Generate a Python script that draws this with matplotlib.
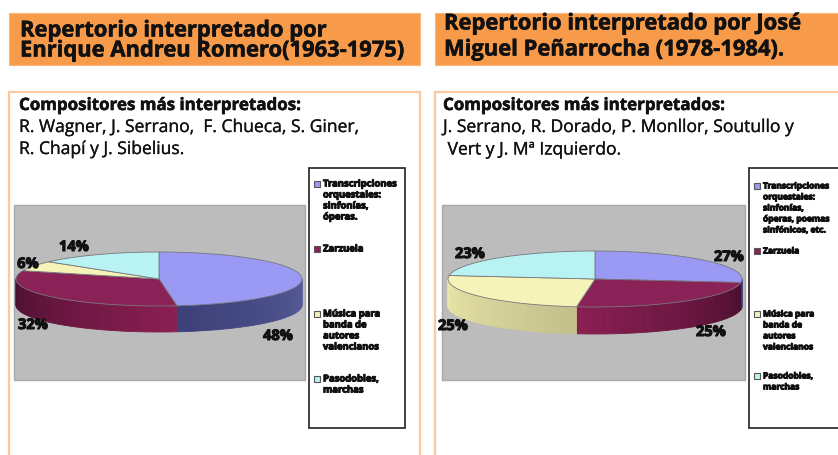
import numpy as np
import matplotlib
matplotlib.use('Agg')
import matplotlib.pyplot as plt
from matplotlib.patches import Rectangle
import matplotlib.patheffects as pe

# Datos de los dos graficos
valores_andreu = [48, 32, 6, 14]
valores_penarrocha = [27, 25, 25, 23]
etiquetas_andreu = ['48%', '32%', '6%', '14%']
etiquetas_penarrocha = ['27%', '25%', '25%', '23%']

titulo_andreu = ['Repertorio interpretado por', 'Enrique Andreu Romero(1963-1975)']
titulo_penarrocha = ['Repertorio interpretado por José', 'Miguel Peñarrocha (1978-1984).']
compositores_andreu = ['R. Wagner, J. Serrano,  F. Chueca, S. Giner,', 'R. Chapí y J. Sibelius.']
compositores_penarrocha = ['J. Serrano, R. Dorado, P. Monllor, Soutullo y', ' Vert y J. Mª Izquierdo.']

leyenda_andreu = ['Transcripciones\norquestales:\nsinfonías,\nóperas.', 'Zarzuela',
                  'Música para\nbanda de\nautores\nvalencianos', 'Pasodobles,\nmarchas']
leyenda_penarrocha = ['Transcripciones\norquestales:\nsinfonías,\nóperas, poemas\nsinfónicos, etc.', 'Zarzuela',
                      'Música para\nbanda de\nautores\nvalencianos', 'Pasodobles,\nmarchas']

colores = ['#9a9af5', '#8a2258', '#f6f3b8', '#b8f2f2']
colores_lado = ['#565b98', '#8a1f52', '#ece8aa', '#8fc8c8']
colores_lado_osc = ['#3c4078', '#4a0e2e', '#c4c08c', '#70a0a0']

NARANJA = '#f79a4a'
BORDE = '#fbc8a0'
GRIS = '#bcbcbc'
FUENTE = 'Open Sans'

fig = plt.figure(figsize=(8.38, 4.55), dpi=100)
ax = fig.add_axes([0, 0, 1, 1])
ax.set_xlim(0, 838)
ax.set_ylim(455, 0)
ax.axis('off')


def texto(x, y, s, size, peso='bold', grosor=0.0, **kw):
    t = ax.text(x, y, s, fontsize=size, fontweight=peso, family=FUENTE, color='#111111',
                va='center', ha=kw.pop('ha', 'left'), **kw)
    if grosor:
        t.set_path_effects([pe.withStroke(linewidth=grosor, foreground='#111111')])
    return t


def tarta(valores, etiquetas, cx, cy, rx, ry, prof, pos_etiquetas, lado_oscuro):
    total = sum(valores)
    fin = np.cumsum(valores) / total * 2 * np.pi
    ini = np.r_[0, fin[:-1]]
    # lado del cilindro, solo la mitad delantera
    for i in range(len(valores)):
        a0, a1 = max(ini[i], np.pi / 2), min(fin[i], 3 * np.pi / 2)
        if a1 <= a0:
            continue
        ts = np.linspace(a0, a1, 40)
        c0 = np.array(matplotlib.colors.to_rgb(colores_lado[i]))
        c1 = np.array(matplotlib.colors.to_rgb(colores_lado_osc[i]))
        for j in range(len(ts) - 1):
            xs = cx + rx * np.sin(ts[j:j + 2])
            ys = cy - ry * np.cos(ts[j:j + 2])
            # el tono se oscurece hacia el lado indicado
            f = j / 38 if lado_oscuro[i] else 1 - j / 38
            ax.fill([xs[0], xs[1], xs[1], xs[0]], [ys[0], ys[1], ys[1] + prof, ys[0] + prof],
                    color=c0 + (c1 - c0) * f, lw=0.6, zorder=3)
    # tapa superior
    for i in range(len(valores)):
        ts = np.linspace(ini[i], fin[i], 80)
        xs = np.r_[cx, cx + rx * np.sin(ts)]
        ys = np.r_[cy, cy - ry * np.cos(ts)]
        ax.fill(xs, ys, facecolor=colores[i], edgecolor='#77777f', lw=0.6, zorder=4)
    for (x, y), e in zip(pos_etiquetas, etiquetas):
        texto(x, y, e, 10.5, grosor=0.8, ha='center', zorder=6)


def leyenda(x0, y0, x1, y1, textos, ys, size):
    ax.add_patch(Rectangle((x0, y0), x1 - x0, y1 - y0, fc='white', ec='#333333', lw=1.3, zorder=2))
    for i, (s, y) in enumerate(zip(textos, ys)):
        ax.add_patch(Rectangle((x0 + 5, y - 3), 6, 6, fc=colores[i], ec='#555555', lw=0.8, zorder=3))
        for k, linea in enumerate(s.split('\n')):
            texto(x0 + 14, y + k * 11, linea, size, grosor=0.7, zorder=3)


def panel(x0, x1, xg0, xg1, titulo, ty, comp, cx):
    ax.add_patch(Rectangle((x0, 13), x1 - x0, 52, fc=NARANJA, ec='#fbb57a', lw=0.8))
    for s, y in zip(titulo, ty):
        texto(cx, y, s, 15.8, grosor=0.4)
    # marco abierto por abajo
    ax.plot([x0, x0, x1, x1], [460, 92, 92, 460], color=BORDE, lw=1.6)
    texto(cx - 1, 105, 'Compositores más interpretados:', 12.2, grosor=0.4)
    for s, y in zip(comp, [128, 150]):
        texto(cx - 1, y, s, 12.6, peso='normal', grosor=0.2)
    ax.add_patch(Rectangle((xg0, 205), xg1 - xg0, 175, fc=GRIS, ec='#a8a8a8', lw=1))


panel(9, 420, 14, 305, titulo_andreu, [31, 51], compositores_andreu, 20)
panel(435, 845, 442, 745, titulo_penarrocha, [24, 50], compositores_penarrocha, 444)

tarta(valores_andreu, etiquetas_andreu, 159, 279, 143, 27, 26,
      [(278, 336), (33, 325), (28, 264), (74, 247)], [True, True, True, True])
tarta(valores_penarrocha, etiquetas_penarrocha, 595, 279, 147, 28, 27,
      [(729, 257), (711, 332), (453, 326), (470, 254)], [True, False, False, True])

leyenda(309, 168, 405, 428, leyenda_andreu, [184, 249, 314, 379], 6.8)
leyenda(749, 168, 845, 428, leyenda_penarrocha, [186, 251, 314, 376], 6.1)

fig.savefig('out.png', dpi=100)
